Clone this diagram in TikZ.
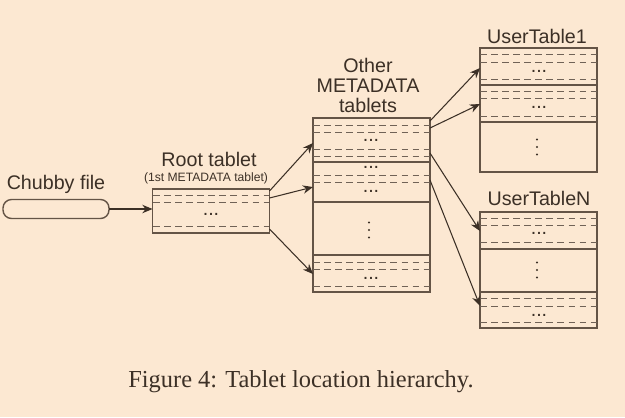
\documentclass[tikz,border=0pt]{standalone}
\usepackage{fontspec}
\setmainfont{Liberation Serif}
\newfontfamily\labelfont{Liberation Sans}
\usetikzlibrary{arrows.meta,calc}
\definecolor{paper}{RGB}{252,232,210}
\definecolor{edge}{RGB}{100,84,70}
\definecolor{dashc}{RGB}{112,98,86}
\definecolor{ink}{RGB}{60,48,38}
% one dashed row separator inside a tablet: y, left x, right x
\newcommand\rowdash[3]{\draw[dl] (#2,#1) -- (#3,#1);}
% one solid row separator inside a tablet
\newcommand\rowsolid[3]{\draw[rowline] (#2,#1) -- (#3,#1);}
% horizontal ellipsis centred at x, y
\newcommand\hdots[2]{\node[ell] at (#1,#2+1) {...};}
% vertical ellipsis centred at x, y
\newcommand\vdotsat[2]{\foreach \d in {-7.5,0,7.5}{\fill[ink] (#1,#2+\d) circle (1.1);}}
\begin{document}
\begin{tikzpicture}[x=0.02cm,y=-0.02cm,
  tablet/.style={draw=edge, line width=0.8pt, rectangle, inner sep=0pt, outer sep=0pt,
                 minimum width=2.34cm},
  rowline/.style={draw=edge, line width=0.8pt},
  dl/.style={draw=dashc, line width=0.55pt, dash pattern=on 3.8pt off 2.5pt},
  lbl/.style={font=\labelfont\fontsize{11.2}{13.4}\selectfont, text=ink, inner sep=0pt, anchor=base},
  small/.style={font=\labelfont\fontsize{6.9}{8}\selectfont, text=ink, inner sep=0pt, anchor=base},
  ell/.style={font=\labelfont\fontsize{11.2}{13.4}\selectfont, text=ink, inner sep=0pt, anchor=base},
  ptr/.style={draw=ink, line width=0.6pt, -{Stealth[length=5.8pt,width=4.8pt]}}]
\fill[paper] (0,0) rectangle (625,417);
\useasboundingbox (0,0) rectangle (625,417);

% Chubby file
\node[lbl] (chubbylbl) at (56,189) {Chubby file};
\node[draw=edge, line width=0.8pt, rounded corners=0.17cm, inner sep=0pt, outer sep=0pt,
      minimum width=2.12cm, minimum height=0.38cm] (chubby) at (56,209) {};

% Root tablet
\node[lbl] (rootlbl) at (209,166) {Root tablet};
\node[small] (rootsub) at (206,181.5) {(1st METADATA tablet)};
\node[tablet, minimum height=0.88cm] (root) at (211,211) {};
\rowdash{195}{153}{269}
\rowdash{202}{153}{269}
\hdots{211}{214}
\rowdash{226}{153}{269}

% Other METADATA tablets
\node[lbl] (metalbl1) at (368,72) {Other};
\node[lbl] (metalbl2) at (368,92) {METADATA};
\node[lbl] (metalbl3) at (368,112) {tablets};
\node[tablet, minimum height=3.48cm] (meta) at (371.5,205) {};
\rowdash{125}{313}{430}
\rowdash{132}{313}{430}
\hdots{371}{140}
\rowdash{149}{313}{430}
\rowdash{156}{313}{430}
\rowsolid{162}{313}{430}
\hdots{371}{167}
\rowdash{175}{313}{430}
\rowdash{182}{313}{430}
\hdots{371}{191}
\rowsolid{202}{313}{430}
\vdotsat{369}{230}
\rowsolid{255}{313}{430}
\rowdash{262}{313}{430}
\rowdash{269}{313}{430}
\hdots{371}{278}
\rowdash{286}{313}{430}

% UserTable1
\node[lbl] (ut1lbl) at (537,43) {UserTable1};
\node[tablet, minimum height=2.48cm] (ut1) at (538.5,110) {};
\rowdash{54}{480}{597}
\rowdash{62}{480}{597}
\hdots{539}{71}
\rowdash{79}{480}{597}
\rowsolid{85}{480}{597}
\rowdash{91}{480}{597}
\rowdash{98}{480}{597}
\hdots{539}{107}
\rowdash{116}{480}{597}
\rowsolid{122}{480}{597}
\vdotsat{537}{147}

% UserTableN
\node[lbl] (utnlbl) at (539,205) {UserTableN};
\node[tablet, minimum height=2.32cm] (utn) at (538.5,270) {};
\rowdash{218}{480}{597}
\rowdash{225}{480}{597}
\hdots{539}{233}
\rowdash{242}{480}{597}
\rowsolid{249}{480}{597}
\vdotsat{537}{270}
\rowsolid{292}{480}{597}
\rowdash{298}{480}{597}
\rowdash{306}{480}{597}
\hdots{539}{315}
\rowdash{322}{480}{597}

% pointers
\draw[ptr] (chubby.east) -- (chubby.east -| root.west);

\coordinate (r1) at ($(root.north east)+(0,2)$);
\coordinate (r2) at ($(root.north east)+(0,9)$);
\coordinate (r3) at ($(root.south east)+(0,-4)$);
\coordinate (m1) at ($(meta.north west)+(0,25)$);
\coordinate (m2) at ($(meta.north west)+(0,69)$);
\coordinate (m3) at ($(meta.north west)+(0,156)$);
\draw[ptr] (r1) -- (m1);
\draw[ptr] (r2) -- (m2);
\draw[ptr] (r3) -- (m3);

\coordinate (o1) at ($(meta.north east)+(0,3)$);
\coordinate (o2) at ($(meta.north east)+(0,10)$);
\coordinate (o3) at ($(meta.north east)+(0,35)$);
\coordinate (o4) at ($(meta.north east)+(0,62)$);
\coordinate (u1) at ($(ut1.north west)+(0,20)$);
\coordinate (u2) at ($(ut1.north west)+(0,56)$);
\coordinate (n1) at ($(utn.north west)+(0,19)$);
\coordinate (n2) at ($(utn.north west)+(0,94)$);
\draw[ptr] (o1) -- (u1);
\draw[ptr] (o2) -- (u2);
\draw[ptr] (o3) -- (n1);
\draw[ptr] (o4) -- (n2);

% caption
\node[font=\fontsize{13.9}{16}\selectfont, text=ink, inner sep=0pt, anchor=base west] (caption)
  at (128,387) {Figure 4: Tablet location hierarchy.};
\end{tikzpicture}
\end{document}
